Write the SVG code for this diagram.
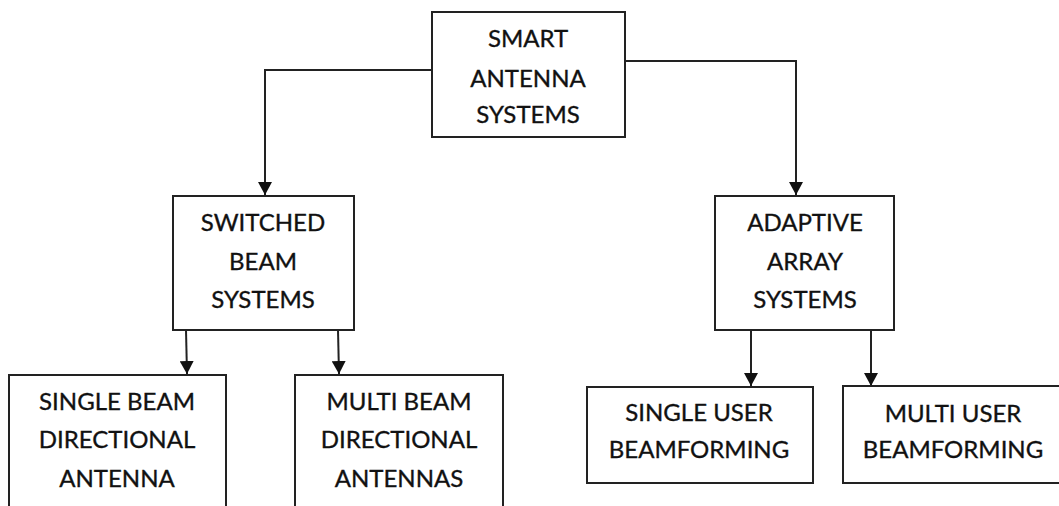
<svg xmlns="http://www.w3.org/2000/svg" width="1059" height="506" viewBox="0 0 1059 506">
<style>
.box{fill:#fff;stroke:#222;stroke-width:2}
.t{font-family:Lato,"Open Sans","Liberation Sans",sans-serif;font-size:24px;fill:#111;stroke:#111;stroke-width:0.35;text-anchor:middle}
.c{fill:none;stroke:#222;stroke-width:2}
</style>
<defs>
<marker id="ah" viewBox="0 0 13 14" refX="13" refY="7" markerWidth="13" markerHeight="14" markerUnits="userSpaceOnUse" orient="auto">
<path d="M0,0 L13,7 L0,14 z" fill="#111"/>
</marker>
</defs>
<rect width="1059" height="506" fill="#fff"/>
<g id="connectors">
<path class="c" d="M432,70 H265 V195" marker-end="url(#ah)"/>
<path class="c" d="M625,61 H796 V195" marker-end="url(#ah)"/>
<path class="c" d="M186,330 L187,374" marker-end="url(#ah)"/>
<path class="c" d="M338,330 L339,374" marker-end="url(#ah)"/>
<path class="c" d="M751,330 V386" marker-end="url(#ah)"/>
<path class="c" d="M871,330 V386" marker-end="url(#ah)"/>
</g>
<g id="smart">
<rect class="box" x="432" y="12" width="193" height="125"/>
<text class="t" x="528" y="47">SMART</text>
<text class="t" x="528" y="87">ANTENNA</text>
<text class="t" x="528" y="123">SYSTEMS</text>
</g>
<g id="switched">
<rect class="box" x="173" y="196" width="181" height="134"/>
<text class="t" x="263" y="231">SWITCHED</text>
<text class="t" x="263" y="270">BEAM</text>
<text class="t" x="263" y="308">SYSTEMS</text>
</g>
<g id="adaptive">
<rect class="box" x="715" y="196" width="179" height="134"/>
<text class="t" x="805" y="231">ADAPTIVE</text>
<text class="t" x="805" y="270">ARRAY</text>
<text class="t" x="805" y="308">SYSTEMS</text>
</g>
<g id="singlebeam">
<rect class="box" x="9" y="375" width="217" height="140"/>
<text class="t" x="117" y="410">SINGLE BEAM</text>
<text class="t" x="117" y="448">DIRECTIONAL</text>
<text class="t" x="117" y="487">ANTENNA</text>
</g>
<g id="multibeam">
<rect class="box" x="295" y="375" width="208" height="140"/>
<text class="t" x="399" y="410">MULTI BEAM</text>
<text class="t" x="399" y="448">DIRECTIONAL</text>
<text class="t" x="399" y="487">ANTENNAS</text>
</g>
<g id="singleuser">
<rect class="box" x="587" y="387" width="226" height="96"/>
<text class="t" x="699" y="421">SINGLE USER</text>
<text class="t" x="699" y="458">BEAMFORMING</text>
</g>
<g id="multiuser">
<rect class="box" x="843" y="386" width="220" height="97"/>
<text class="t" x="953" y="422">MULTI USER</text>
<text class="t" x="953" y="458">BEAMFORMING</text>
</g>
</svg>
